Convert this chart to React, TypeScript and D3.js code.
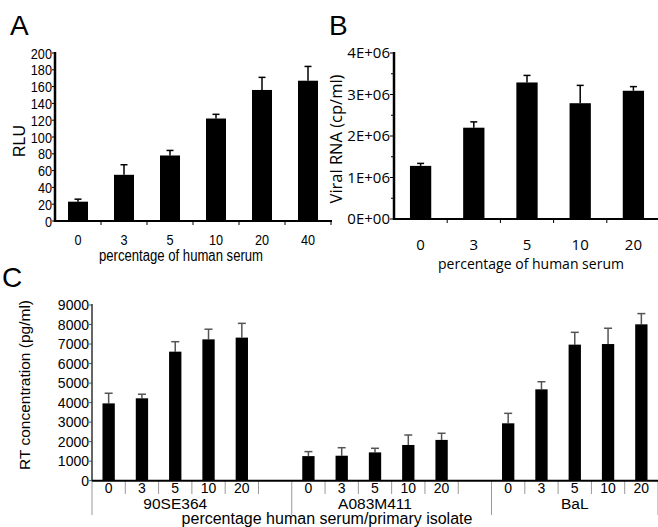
import React from 'react';
import * as d3 from 'd3';

// panel A
const serumA = ['0', '3', '5', '10', '20', '40'];
const rluMean = [23, 55, 78, 122, 156, 167];
const rluTop = [26, 67, 84, 127, 171, 184];
const rluTicks = [0, 20, 40, 60, 80, 100, 120, 140, 160, 180, 200];

// panel B
const serumB = ['0', '3', '5', '10', '20'];
const rnaMean = [1.28e6, 2.2e6, 3.29e6, 2.79e6, 3.09e6];
const rnaTop = [1.34e6, 2.34e6, 3.46e6, 3.22e6, 3.19e6];
const rnaTicks = [0, 1e6, 2e6, 3e6, 4e6];
const rnaTickLabels = ['0E+00', '1E+06', '2E+06', '3E+06', '4E+06'];

// panel C
const isolates = ['90SE364', 'A083M411', 'BaL'];
const serumC = ['0', '3', '5', '10', '20'];
const rtMean = [
  [3960, 4220, 6610, 7240, 7330],
  [1260, 1280, 1450, 1830, 2090],
  [2940, 4680, 6970, 7000, 8010],
];
const rtTop = [
  [4480, 4430, 7120, 7760, 8060],
  [1490, 1690, 1660, 2340, 2430],
  [3450, 5070, 7600, 7810, 8560],
];
const rtTicks = [0, 1000, 2000, 3000, 4000, 5000, 6000, 7000, 8000, 9000];

const open = '"Open Sans", "Noto Sans", sans-serif';
const arial = '"Liberation Sans", Arial, sans-serif';

// panel A uses a narrow sans, squeeze Liberation Sans horizontally
function Narrow({ x, y, size, anchor, children }: { x: number; y: number; size: number; anchor: string; children: React.ReactNode }) {
  return (
    <text transform={`translate(${x},${y}) scale(0.82,1)`} textAnchor={anchor} fontFamily={arial} fontSize={size}>
      {children}
    </text>
  );
}

function PanelA() {
  const x = d3.scaleBand<string>().domain(serumA).range([55, 331]).paddingInner(0.565).paddingOuter(0.2825);
  const y = d3.scaleLinear().domain([0, 200]).range([221, 53]);
  const step = x.step();
  return (
    <g>
      <text x={10} y={35} fontFamily={arial} fontSize={28}>A</text>
      {serumA.map((c, i) => {
        const cx = x(c)! + x.bandwidth() / 2;
        return (
          <g key={c}>
            <line x1={cx} x2={cx} y1={y(rluMean[i])} y2={y(rluTop[i])} stroke="#000" strokeWidth={1.5} />
            <line x1={cx - 3.5} x2={cx + 3.5} y1={y(rluTop[i])} y2={y(rluTop[i])} stroke="#000" strokeWidth={1.5} />
            <rect x={x(c)} y={y(rluMean[i])} width={x.bandwidth()} height={y(0) - y(rluMean[i])} fill="#000" />
            <Narrow x={cx} y={244.5} size={15.5} anchor="middle">{c}</Narrow>
          </g>
        );
      })}
      {rluTicks.map(t => (
        <g key={t}>
          <line x1={52} x2={55} y1={y(t)} y2={y(t)} stroke="#000" strokeWidth={1} />
          <Narrow x={52} y={y(t) + 5.5} size={15.5} anchor="end">{t}</Narrow>
        </g>
      ))}
      {serumA.map((c, i) => (
        <line key={c} x1={55 + step * (i + 1)} x2={55 + step * (i + 1)} y1={221} y2={225} stroke="#000" strokeWidth={1} />
      ))}
      <line x1={55} x2={55} y1={52} y2={222} stroke="#000" strokeWidth={2.5} />
      <line x1={54} x2={332} y1={221} y2={221} stroke="#000" strokeWidth={2} />
      <text transform="translate(25,141) rotate(-90)" textAnchor="middle" fontFamily={arial} fontSize={16}>RLU</text>
      <Narrow x={181} y={261} size={16} anchor="middle">percentage of human serum</Narrow>
    </g>
  );
}

function PanelB() {
  const x = d3.scaleBand<string>().domain(serumB).range([394, 660]).paddingInner(0.6).paddingOuter(0.3);
  const y = d3.scaleLinear().domain([0, 4e6]).range([219, 53]);
  const step = x.step();
  const minor = d3.range(0.5e6, 4e6, 1e6);
  return (
    <g>
      <text x={329} y={35} fontFamily={arial} fontSize={28}>B</text>
      {serumB.map((c, i) => {
        const cx = x(c)! + x.bandwidth() / 2;
        return (
          <g key={c}>
            <line x1={cx} x2={cx} y1={y(rnaMean[i])} y2={y(rnaTop[i])} stroke="#000" strokeWidth={1.5} />
            <line x1={cx - 3.5} x2={cx + 3.5} y1={y(rnaTop[i])} y2={y(rnaTop[i])} stroke="#000" strokeWidth={1.5} />
            <rect x={x(c)} y={y(rnaMean[i])} width={x.bandwidth()} height={y(0) - y(rnaMean[i])} fill="#000" />
            <text x={cx} y={249.5} textAnchor="middle" fontFamily={open} fontSize={15}>{c}</text>
          </g>
        );
      })}
      {rnaTicks.map((t, i) => (
        <g key={t}>
          <line x1={390} x2={394} y1={y(t)} y2={y(t)} stroke="#000" strokeWidth={1} />
          <text x={390} y={y(t) + 5} textAnchor="end" fontFamily={open} fontSize={15}>{rnaTickLabels[i]}</text>
        </g>
      ))}
      {minor.map(t => (
        <line key={t} x1={391} x2={394} y1={y(t)} y2={y(t)} stroke="#000" strokeWidth={1} />
      ))}
      {serumB.map((c, i) => (
        <line key={c} x1={394 + step * (i + 1)} x2={394 + step * (i + 1)} y1={219} y2={223} stroke="#000" strokeWidth={1} />
      ))}
      <line x1={394} x2={394} y1={52} y2={220} stroke="#000" strokeWidth={2.5} />
      <line x1={393} x2={658} y1={219} y2={219} stroke="#000" strokeWidth={2} />
      <text transform="translate(342,139) rotate(-90)" textAnchor="middle" fontFamily={open} fontSize={16.5}>Viral RNA (cp/ml)</text>
      <text x={531} y={268.5} textAnchor="middle" fontFamily={open} fontSize={14}>percentage of human serum</text>
    </g>
  );
}

function PanelC() {
  // 17 slots: 5 bars per isolate with one empty slot between groups
  const slots = d3.range(17);
  const x = d3.scaleBand<number>().domain(slots).range([92, 658]).paddingInner(0.63).paddingOuter(0.315);
  const y = d3.scaleLinear().domain([0, 9000]).range([480.7, 305]);
  const step = x.step();
  const left = 92;
  const bars = isolates.flatMap((iso, g) =>
    serumC.map((s, j) => ({ iso, s, slot: g * 6 + j, mean: rtMean[g][j], top: rtTop[g][j] }))
  );
  return (
    <g>
      <text x={2} y={287} fontFamily={arial} fontSize={28}>C</text>
      {bars.map(b => {
        const cx = x(b.slot)! + x.bandwidth() / 2;
        return (
          <g key={b.iso + b.s}>
            <line x1={cx} x2={cx} y1={y(b.mean)} y2={y(b.top)} stroke="#555" strokeWidth={1.5} />
            <line x1={cx - 4} x2={cx + 4} y1={y(b.top)} y2={y(b.top)} stroke="#555" strokeWidth={1.5} />
            <rect x={x(b.slot)} y={y(b.mean)} width={x.bandwidth()} height={y(0) - y(b.mean)} fill="#000" />
            <text x={cx} y={492.5} textAnchor="middle" fontFamily={arial} fontSize={14}>{b.s}</text>
          </g>
        );
      })}
      {slots.concat([17]).map(i => {
        const long = i % 6 === 0 || i === 17;
        return (
          <line key={i} x1={left + step * i} x2={left + step * i} y1={481} y2={long ? 515 : 494} stroke="#999" strokeWidth={1} />
        );
      })}
      {isolates.map((iso, g) => (
        <text key={iso} x={x(g * 6 + 2)! + x.bandwidth() / 2} y={508.5} textAnchor="middle" fontFamily={arial} fontSize={15.5}>{iso}</text>
      ))}
      {rtTicks.map(t => (
        <g key={t}>
          <line x1={89} x2={92} y1={y(t)} y2={y(t)} stroke="#555" strokeWidth={1} />
          <text x={89} y={y(t) + 5} textAnchor="end" fontFamily={arial} fontSize={14}>{t}</text>
        </g>
      ))}
      <line x1={92} x2={92} y1={304} y2={481} stroke="#333" strokeWidth={1.5} />
      <line x1={92} x2={658} y1={480.7} y2={480.7} stroke="#000" strokeWidth={2} />
      <text transform="translate(30,385) rotate(-90)" textAnchor="middle" fontFamily={arial} fontSize={15.5}>RT concentration (pg/ml)</text>
      <text x={327} y={524} textAnchor="middle" fontFamily={arial} fontSize={16}>percentage human serum/primary isolate</text>
    </g>
  );
}

export default function App() {
  return (
    <svg width={658} height={527} style={{ position: 'absolute', left: 0, top: 0, background: '#fff' }}>
      <rect width={658} height={527} fill="#fff" />
      <PanelA />
      <PanelB />
      <PanelC />
    </svg>
  );
}
